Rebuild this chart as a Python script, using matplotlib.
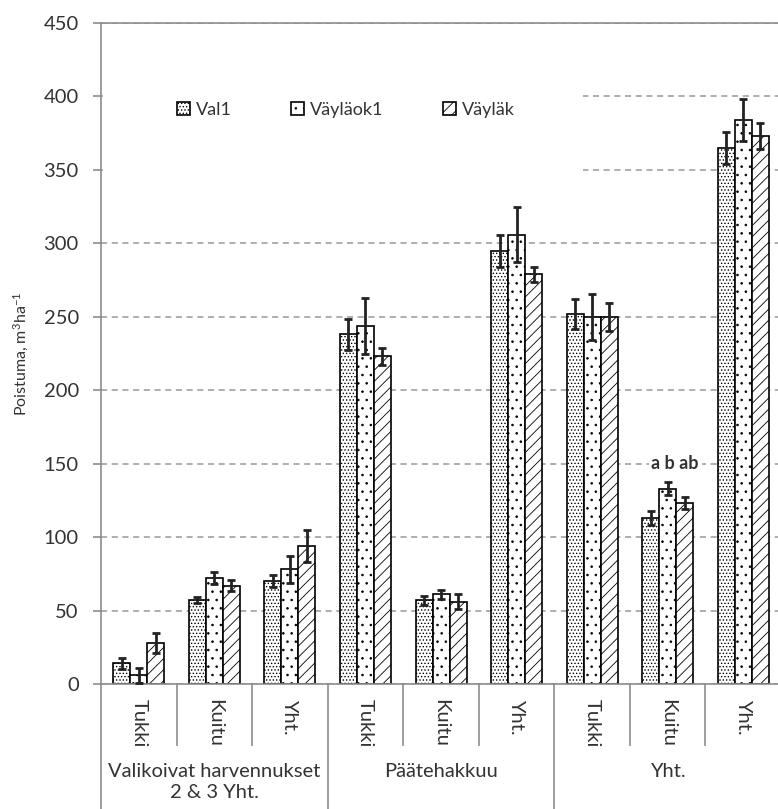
import matplotlib
matplotlib.use("Agg")
import matplotlib.pyplot as plt
import matplotlib.transforms as mtransforms
from matplotlib.patches import Rectangle
import numpy as np

# =========================
# Data
# =========================

groups = ["Valikoivat harvennukset\n2 & 3 Yht.", "Päätehakkuu", "Yht."]
sub_labels = ["Tukki", "Kuitu", "Yht."]

series_names = ["Val1", "Väyläok1", "Väyläk"]

val1 = [14, 57, 70, 238, 57, 295, 252, 113, 365]
val1_err = [4, 2, 4, 10.5, 3, 11, 10, 5, 11]

vaylaok1 = [6, 72, 78, 244, 61, 306, 250, 133, 384]
vaylaok1_err = [5, 4, 9, 19, 3, 19, 15.5, 4.5, 14]

vaylak = [28, 67, 94, 223, 56, 279, 250, 123, 373]
vaylak_err = [7, 4, 11, 6, 5, 5, 9.5, 4, 9]

sig_label = "a b ab"
sig_category = 7
sig_value = 150

# =========================
# Style
# =========================

plt.rcParams["font.family"] = ["Lato", "DejaVu Sans"]
plt.rcParams["mathtext.fontset"] = "custom"
plt.rcParams["mathtext.rm"] = "Lato"
plt.rcParams["hatch.linewidth"] = 0.6

text_col = "#333333"
axis_col = "#8c8c8c"

fig = plt.figure(figsize=(7.78, 8.09), dpi=100)
ax = fig.add_axes([101 / 778, 1 - 684 / 809, 680 / 778, 661 / 809])

n_cat = len(val1)
x = np.arange(n_cat)
w = 0.225

series = [
    (val1, val1_err, "....."),
    (vaylaok1, vaylaok1_err, ".."),
    (vaylak, vaylak_err, "///"),
]

for i, (vals, errs, hatch) in enumerate(series):
    ax.bar(
        x + (i - 1) * w,
        vals,
        width=w,
        color="white",
        edgecolor="black",
        linewidth=1.2,
        hatch=hatch,
        label=series_names[i],
        zorder=2,
    )
    ax.errorbar(
        x + (i - 1) * w,
        vals,
        yerr=errs,
        fmt="none",
        ecolor="#222222",
        elinewidth=2,
        capsize=3,
        capthick=2,
        zorder=3,
    )

# =========================
# Axes
# =========================

ax.set_xlim(-0.5, n_cat - 0.5)
ax.set_ylim(0, 450)
ax.set_yticks(np.arange(0, 451, 50))
ax.yaxis.grid(True, color="#999999", linestyle=(0, (4, 3)), linewidth=1.1)
ax.set_axisbelow(True)

ax.spines["right"].set_visible(False)
for side in ["left", "top", "bottom"]:
    ax.spines[side].set_color(axis_col)
    ax.spines[side].set_linewidth(1.2)

ax.tick_params(axis="y", colors=axis_col, length=6, width=1.2, pad=10,
               labelsize=14.5, labelcolor=text_col)
ax.set_xticks(x)
ax.set_xticklabels(sub_labels * len(groups), rotation=270, fontsize=14.5,
                   color=text_col, va="top")
ax.tick_params(axis="x", length=0, pad=11)

ax.set_ylabel("Poistuma, m$\\mathregular{^3}$ha$\\mathregular{^{-1}}$",
              fontsize=11.5, color=text_col, labelpad=9)

# Category separators below the axis
trans = mtransforms.blended_transform_factory(ax.transData, ax.transAxes)
for k in range(n_cat + 1):
    xb = k - 0.5
    if k % 3 == 0:
        y_end = -(809 - 684) / 661 - 0.02
    else:
        y_end = -(745 - 684) / 661
    ax.plot([xb, xb], [0, y_end], transform=trans, color=axis_col,
            linewidth=1.2, clip_on=False)

for g, name in enumerate(groups):
    ax.text(g * 3 + 1, -(763 - 684) / 661, name, transform=trans,
            ha="center", va="top", fontsize=14.5, color=text_col,
            linespacing=1.25)

# White area behind legend (covers the gridlines there)
trans_leg = mtransforms.blended_transform_factory(ax.transAxes, ax.transData)
ax.add_patch(Rectangle((0.003, 335), 0.706, 80, transform=trans_leg,
                       facecolor="white", edgecolor="none", zorder=1))

ax.legend(
    loc="center left",
    bbox_to_anchor=((168 - 101) / 680, (684 - 110) / 661),
    ncol=3,
    frameon=False,
    fontsize=13,
    handlelength=0.7,
    handleheight=0.7,
    handletextpad=0.35,
    columnspacing=3.3,
    borderpad=0,
    labelcolor=text_col,
)

ax.text(sig_category + 0.1, sig_value, sig_label, ha="center", va="center",
        fontsize=13, fontweight="bold", color=text_col, zorder=4,
        bbox=dict(facecolor="white", edgecolor="none", pad=2))

fig.savefig("out.png", dpi=100)
